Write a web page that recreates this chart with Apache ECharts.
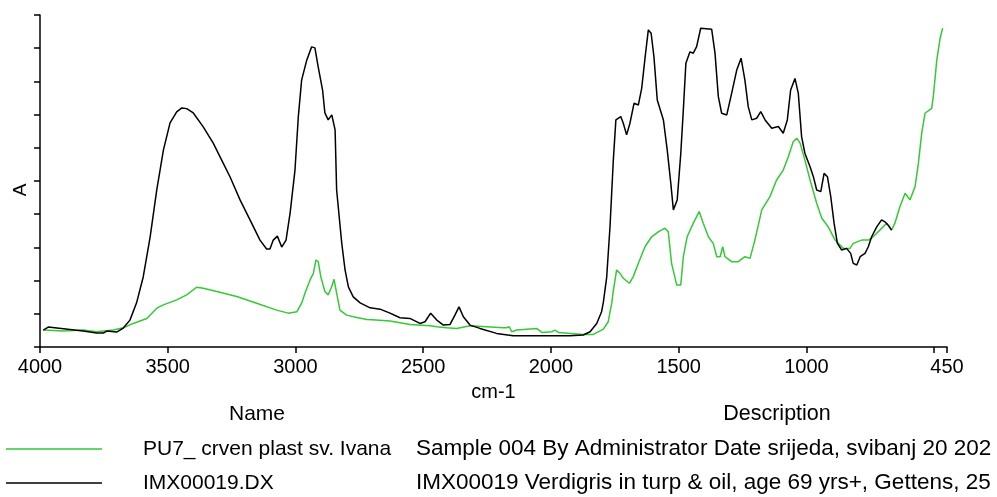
<!DOCTYPE html>
<html>
<head>
<meta charset="utf-8">
<script src="https://cdn.jsdelivr.net/npm/echarts@6/dist/echarts.min.js"></script>
<style>
html,body{margin:0;padding:0;background:#fff;}
#chart{width:997px;height:497px;}
</style>
</head>
<body>
<div id="chart"></div>
<script>
// Wavenumber (cm-1) and absorbance (arbitrary units, 0-100)
var blackWn = [3987,3968,3831,3778,3752,3739,3700,3674,3648,3622,3596,3569,3543,3517,3491,3465,3445,3426,3400,3361,3322,3283,3256,3217,3178,3139,3113,3100,3087,3071,3054,3037,3021,3002,2989,2976,2956,2937,2924,2911,2894,2885,2872,2858,2845,2839,2819,2806,2793,2774,2747,2708,2669,2630,2591,2552,2513,2493,2471,2447,2421,2395,2376,2360,2343,2317,2278,2213,2148,2056,1991,1926,1874,1847,1821,1802,1795,1782,1769,1756,1746,1727,1717,1704,1691,1675,1658,1645,1632,1619,1608,1597,1584,1560,1545,1531,1521,1506,1492,1482,1472,1456,1443,1430,1414,1371,1358,1345,1332,1312,1293,1273,1256,1241,1228,1214,1195,1179,1162,1136,1110,1091,1075,1062,1045,1032,1019,1006,986,973,960,944,931,918,905,892,879,862,843,827,817,803,790,771,758,745,725,706,693,680,667];
var blackA = [5.1,6.0,4.8,4.2,4.2,4.8,4.5,5.7,8.1,13.3,21.1,33.1,47.3,59.3,67.5,70.8,72.0,71.8,70.5,66.3,61.4,55.4,51.2,44.3,38.3,32.2,29.5,29.5,32.2,33.4,30.1,32.2,40.4,53.3,69.3,80.4,86.4,90.4,90.1,84.3,77.4,70.5,68.4,69.9,65.4,47.3,31.3,23.2,18.1,15.1,13.3,11.8,11.4,10.2,8.8,8.6,7.1,7.6,10.2,8.1,6.6,6.8,9.6,12.1,9.1,6.6,5.6,4.1,3.4,3.4,3.4,3.4,3.6,4.6,7.1,10.6,13.5,21.0,36.2,56.3,68.4,69.4,67.4,63.9,67.4,73.4,72.9,77.9,87.0,95.5,94.5,87.4,74.4,68.4,59.3,49.3,41.3,44.3,58.3,71.4,85.5,88.9,88.5,90.5,96.0,95.7,88.5,75.4,70.4,69.9,76.4,83.4,87.0,80.4,72.4,68.4,68.9,70.9,68.4,65.9,66.4,64.4,68.4,77.4,80.9,76.4,63.3,58.3,54.3,51.3,47.3,46.8,52.3,51.3,45.3,37.3,31.2,29.2,29.7,28.2,25.2,24.7,27.2,28.2,30.2,33.2,36.2,38.3,37.7,36.7,35.2];

var greenWn = [3987,3909,3831,3778,3713,3674,3635,3582,3543,3517,3465,3426,3387,3361,3308,3230,3152,3074,3028,2995,2976,2963,2943,2930,2920,2911,2901,2885,2872,2858,2849,2839,2826,2800,2760,2721,2700,2630,2552,2474,2447,2408,2369,2317,2252,2187,2174,2163,2154,2134,2056,2036,1997,1984,1971,1874,1834,1795,1776,1769,1762,1756,1743,1730,1717,1693,1678,1658,1632,1606,1580,1554,1541,1528,1508,1492,1482,1467,1443,1420,1404,1384,1365,1351,1338,1328,1319,1293,1267,1241,1221,1202,1175,1143,1117,1091,1071,1052,1038,1025,1006,986,960,940,915,888,856,830,817,784,758,739,713,686,667,654,634,614,595,575,562,549,536,510,503,490,477,467];
var greenA = [5.1,4.8,5.1,4.6,5.1,5.8,7.1,8.6,11.7,12.7,14.2,15.7,18.0,17.7,16.7,15.2,13.2,11.1,10.2,10.6,13.2,16.2,20.2,22.2,26.2,25.7,21.2,16.7,15.7,18.2,20.4,16.2,11.1,9.6,8.9,8.3,8.2,7.8,6.8,6.4,6.1,5.8,5.6,6.4,6.1,5.8,5.8,6.1,4.6,5.1,5.6,4.4,4.6,5.1,4.4,3.8,3.8,5.4,7.6,10.6,13.2,17.0,23.2,22.2,20.7,19.2,21.2,25.2,30.2,33.2,34.7,35.8,34.7,25.2,18.7,18.7,27.2,33.2,37.3,40.8,37.3,33.2,31.2,27.2,27.2,30.2,27.2,25.7,25.7,27.2,26.7,32.2,41.3,45.3,50.3,53.3,57.3,61.8,62.9,61.4,56.3,50.3,43.3,38.8,36.2,32.2,29.7,29.7,31.2,32.2,32.2,33.2,35.2,37.3,35.2,37.3,42.3,46.3,44.3,48.3,55.3,64.4,70.4,71.9,75.9,86.4,93.0,96.0];

var xTickValues = [4000,3500,3000,2500,2000,1500,1000,500,450];
var xLabelValues = [4000,3500,3000,2500,2000,1500,1000,450];
var xAxisName = 'cm-1';
var yAxisName = 'A';
var headerName = 'Name';
var headerDesc = 'Description';
var legendNames = ['PU7_ crven plast sv. Ivana', 'IMX00019.DX'];
var legendDescs = ['Sample 004 By Administrator Date srijeda, svibanj 20 202', 'IMX00019 Verdigris in turp & oil, age 69 yrs+, Gettens, 25'];
var seriesColors = ['#35c935', '#000000'];

function zip(a, b) { var out = []; for (var i = 0; i < a.length; i++) out.push([a[i], b[i]]); return out; }

var FONT = 'Liberation Sans, Arial, sans-serif';
var chart = echarts.init(document.getElementById('chart'), null, {renderer: 'canvas'});

function txt(x, y, s, size, align) {
  return {type: 'text', style: {x: x, y: y, text: s, fill: '#000', font: size + 'px ' + FONT, align: align, verticalAlign: 'middle', textAlign: align, textVerticalAlign: 'middle'}};
}
var graphics = [
  txt(257, 414, headerName, 21, 'center'),
  txt(777, 414, headerDesc, 21.5, 'center'),
  {type: 'text', x: 21, y: 190, rotation: Math.PI / 2, style: {x: 0, y: 0, text: yAxisName, fill: '#000', font: '19px ' + FONT, align: 'center', verticalAlign: 'middle', textAlign: 'center', textVerticalAlign: 'middle'}}
];
var rowY = [449, 483];
for (var i = 0; i < legendNames.length; i++) {
  graphics.push({type: 'line', shape: {x1: 6, y1: rowY[i], x2: 102, y2: rowY[i]}, style: {stroke: seriesColors[i], lineWidth: 1.5}});
  graphics.push(txt(143, rowY[i], legendNames[i], 21, 'left'));
  graphics.push(txt(416, rowY[i], legendDescs[i], 22.5, 'left'));
}

chart.setOption({
  backgroundColor: '#fff',
  animation: false,
  grid: {left: 40, right: 50, top: 15, bottom: 150, containLabel: false},
  xAxis: {
    type: 'value', inverse: true, min: 450, max: 4000,
    name: xAxisName, nameLocation: 'middle', nameGap: 35,
    nameTextStyle: {color: '#000', fontSize: 20, fontFamily: FONT},
    axisLine: {show: true, onZero: false, lineStyle: {color: '#000', width: 1.5}},
    axisTick: {show: true, length: 6, customValues: xTickValues, lineStyle: {color: '#000', width: 1.5}},
    axisLabel: {show: true, customValues: xLabelValues, color: '#000', fontSize: 20, fontFamily: FONT, margin: 10,
      formatter: function (v) { return String(Math.round(v)); }},
    splitLine: {show: false}
  },
  yAxis: {
    type: 'value', min: 0, max: 100, interval: 10,
    axisLine: {show: true, lineStyle: {color: '#000', width: 1.5}},
    axisTick: {show: true, length: 6, lineStyle: {color: '#000', width: 1.5}},
    axisLabel: {show: false},
    splitLine: {show: false}
  },
  series: [
    {name: legendNames[0], type: 'line', data: zip(greenWn, greenA), showSymbol: false, symbol: 'none', lineStyle: {color: seriesColors[0], width: 1.5}, itemStyle: {color: seriesColors[0]}, z: 2},
    {name: legendNames[1], type: 'line', data: zip(blackWn, blackA), showSymbol: false, symbol: 'none', lineStyle: {color: seriesColors[1], width: 1.5}, itemStyle: {color: seriesColors[1]}, z: 3}
  ],
  graphic: graphics
});
</script>
</body>
</html>
